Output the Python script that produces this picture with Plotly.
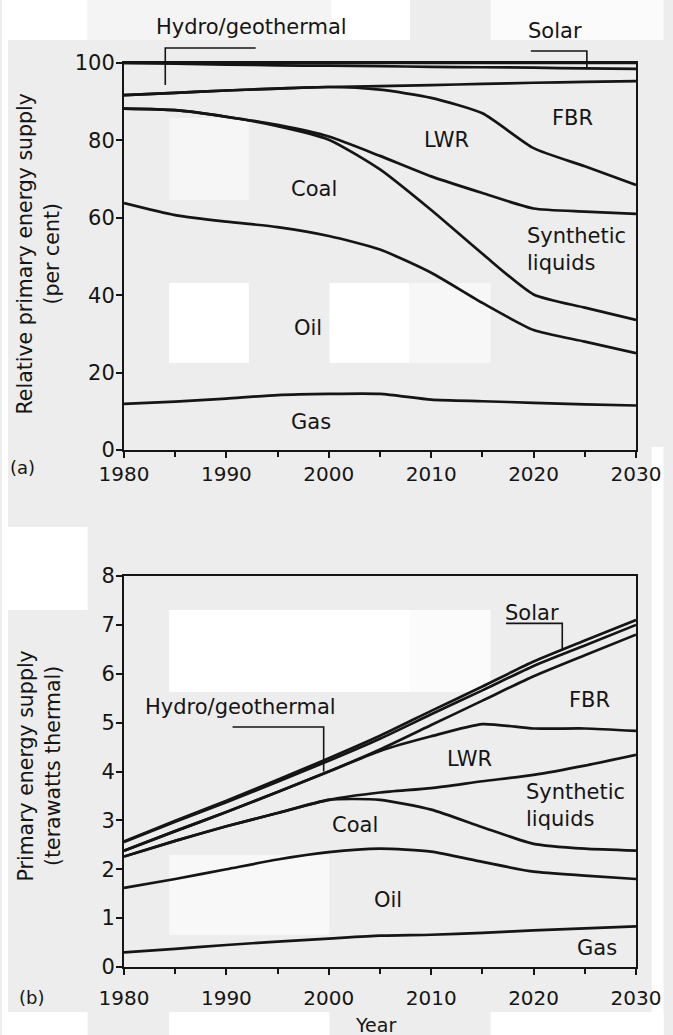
import plotly.graph_objects as go

# ---------------- data ----------------
years = [1980, 1985, 1990, 1995, 2000, 2005, 2010, 2015, 2020, 2025, 2030]
sources = ["Gas", "Oil", "Coal", "Synthetic liquids", "LWR", "FBR",
           "Hydro/geothermal", "Solar"]

# (a) relative primary energy supply, per cent (band thickness per source)
pct_gas = [11.9, 12.5, 13.3, 14.2, 14.5, 14.5, 13.0, 12.6, 12.2, 11.8, 11.5]
pct_oil = [51.9, 48.2, 45.7, 43.4, 40.8, 37.3, 32.8, 25.4, 18.8, 16.2, 13.5]
pct_coal = [24.4, 27.1, 27.1, 26.1, 24.9, 20.7, 16.2, 12.7, 9.2, 8.8, 8.6]
pct_synth = [0.0, 0.0, 0.0, 0.3, 0.8, 3.5, 8.7, 15.7, 22.2, 24.8, 27.4]
pct_lwr = [3.5, 4.5, 6.8, 9.4, 12.8, 17.1, 20.3, 20.6, 15.6, 11.7, 7.5]
pct_fbr = [0.0, 0.0, 0.0, 0.0, 0.0, 0.9, 3.3, 7.6, 16.9, 21.8, 26.8]
pct_hydro = [8.3, 7.5, 6.7, 6.0, 5.5, 5.2, 4.7, 4.3, 3.9, 3.5, 3.2]
pct_solar = [0.0, 0.2, 0.4, 0.6, 0.7, 0.8, 1.0, 1.1, 1.2, 1.4, 1.5]

# (b) primary energy supply, terawatts thermal
tw_gas = [0.30, 0.37, 0.45, 0.52, 0.58, 0.64, 0.66, 0.70, 0.75, 0.79, 0.83]
tw_oil = [1.32, 1.43, 1.55, 1.68, 1.77, 1.78, 1.70, 1.45, 1.20, 1.08, 0.97]
tw_coal = [0.64, 0.78, 0.88, 0.95, 1.07, 1.00, 0.86, 0.71, 0.57, 0.55, 0.58]
tw_synth = [0.00, 0.00, 0.00, 0.00, 0.00, 0.15, 0.44, 0.94, 1.41, 1.70, 1.96]
tw_lwr = [0.12, 0.20, 0.29, 0.43, 0.58, 0.85, 1.06, 1.17, 0.95, 0.76, 0.49]
tw_fbr = [0.00, 0.00, 0.00, 0.00, 0.00, 0.03, 0.23, 0.48, 1.07, 1.50, 1.97]
tw_hydro = [0.18, 0.19, 0.20, 0.21, 0.22, 0.22, 0.22, 0.21, 0.21, 0.20, 0.20]
tw_solar = [0.01, 0.02, 0.03, 0.04, 0.05, 0.06, 0.07, 0.08, 0.09, 0.10, 0.10]

x_ticks = [1980, 1990, 2000, 2010, 2020, 2030]
ya_ticks = [0, 20, 40, 60, 80, 100]
yb_ticks = [0, 1, 2, 3, 4, 5, 6, 7, 8]

# ---------------- layout helpers ----------------
W, H = 673, 1035
L, R, T, B = 124, 28, 63, 68
PW, PH = W - L - R, H - T - B


def px(x):
    return (x - L) / PW


def py(y):
    return (H - B - y) / PH


FONT = "DejaVu Sans, Verdana, sans-serif"
INK = "#151515"

fig = go.Figure()

series_a = [pct_gas, pct_oil, pct_coal, pct_synth, pct_lwr, pct_fbr, pct_hydro, pct_solar]
series_b = [tw_gas, tw_oil, tw_coal, tw_synth, tw_lwr, tw_fbr, tw_hydro, tw_solar]

for name, vals in zip(sources, series_a):
    fig.add_trace(go.Scatter(
        x=years, y=vals, name=name, mode="lines", stackgroup="a", fill="none",
        line=dict(color=INK, width=2.7, shape="spline", smoothing=0.6),
        xaxis="x", yaxis="y", showlegend=False))

for name, vals in zip(sources, series_b):
    fig.add_trace(go.Scatter(
        x=years, y=vals, name=name, mode="lines", stackgroup="b", fill="none",
        line=dict(color=INK, width=2.7, shape="spline", smoothing=0.6),
        xaxis="x2", yaxis="y2", showlegend=False))

axis_common = dict(
    showline=True, linecolor=INK, linewidth=2, mirror=True,
    showgrid=False, zeroline=False,
    ticks="outside", ticklen=6, tickwidth=1.5, tickcolor=INK,
)
xfont = dict(family=FONT, size=20, color=INK)
yfont = dict(family=FONT, size=21, color=INK)
minor_x = dict(dtick=5, tick0=1980, ticks="outside", ticklen=5,
               tickwidth=1.5, tickcolor=INK)

fig.update_layout(
    width=W, height=H,
    margin=dict(l=L, r=R, t=T, b=B),
    paper_bgcolor="#ededed",
    plot_bgcolor="rgba(0,0,0,0)",
    font=dict(family=FONT, size=20, color=INK),
    xaxis=dict(domain=[0, 1], anchor="y", range=[1980, 2030],
               tickvals=x_ticks, ticklabelstandoff=-1, tickfont=xfont,
               minor=minor_x, **axis_common),
    yaxis=dict(domain=[py(450), 1], anchor="x", range=[0, 100],
               tickvals=ya_ticks, tickfont=yfont, ticklabelstandoff=-3,
               **axis_common),
    xaxis2=dict(domain=[0, 1], anchor="y2", range=[1980, 2030],
                tickvals=x_ticks, ticklabelstandoff=6, tickfont=xfont,
                minor=minor_x, **axis_common),
    yaxis2=dict(domain=[0, py(576)], anchor="x2", range=[0, 8],
                tickvals=yb_ticks, tickfont=yfont, ticklabelstandoff=-3,
                **axis_common),
)

# ---------------- scanned-paper background patches ----------------
patches = [
    (0, 0, 87, 40, "#ffffff"),
    (87, 0, 335, 40, "#f4f4f4"),
    (335, 0, 415, 40, "#ffffff"),
    (497, 0, 673, 40, "#fbfbfb"),
    (0, 40, 6, 1035, "#ffffff"),
    (170, 118, 251, 200, "#f6f6f6"),
    (170, 283, 251, 363, "#ffffff"),
    (333, 283, 414, 363, "#ffffff"),
    (414, 283, 497, 363, "#f7f7f7"),
    (0, 527, 87, 610, "#ffffff"),
    (661, 447, 673, 1035, "#ffffff"),
    (170, 610, 415, 692, "#ffffff"),
    (415, 610, 497, 692, "#fbfbfb"),
    (170, 855, 333, 935, "#f8f8f8"),
    (0, 1012, 87, 1035, "#ffffff"),
    (170, 1012, 333, 1035, "#ffffff"),
    (497, 1012, 673, 1035, "#ffffff"),
]
shapes = []
for x0, y0, x1, y1, c in patches:
    shapes.append(dict(type="rect", xref="paper", yref="paper",
                       x0=px(x0), x1=px(x1), y0=py(y1), y1=py(y0),
                       fillcolor=c, line=dict(width=0), layer="below"))

# ---------------- leader lines ----------------
lead = dict(color=INK, width=1.6)
# (a) Hydro/geothermal
shapes.append(dict(type="path", xref="paper", yref="paper",
                   path=f"M {px(258)} {py(48)} L {px(166)} {py(48)} L {px(166)} {py(85)}",
                   line=lead))
# (a) Solar
shapes.append(dict(type="path", xref="paper", yref="paper",
                   path=f"M {px(538)} {py(51)} L {px(595)} {py(51)} L {px(595)} {py(68)}",
                   line=lead))
# (b) Hydro/geothermal
shapes.append(dict(type="path", xref="x2", yref="y2",
                   path="M 1990.6 4.91 L 1999.5 4.91 L 1999.5 4.0",
                   line=lead))
# (b) Solar (underline + drop)
shapes.append(dict(type="path", xref="x2", yref="y2",
                   path="M 2017.3 7.03 L 2022.8 7.03 L 2022.8 6.47",
                   line=lead))
fig.update_layout(shapes=shapes)

# ---------------- text ----------------
ann = []


def label(text, x, y, xref="x", yref="y", size=21, xanchor="center", **kw):
    ann.append(dict(text=text, x=x, y=y, xref=xref, yref=yref, showarrow=False,
                    xanchor=xanchor, yanchor="middle",
                    font=dict(family=FONT, size=size, color=INK), **kw))


# panel (a)
label("Hydro/geothermal", px(254), py(27), "paper", "paper")
label("Solar", px(563), py(31), "paper", "paper")
label("FBR", 2023.8, 85.8)
label("LWR", 2011.5, 80.1)
label("Coal", 1998.6, 67.4)
label("Synthetic<br>liquids", 2019.2, 51.8, xanchor="left", align="left")
label("Oil", 1998.0, 31.5)
label("Gas", 1998.3, 7.2)
label("(a)", px(21), py(467), "paper", "paper", size=18)
label("Relative primary energy supply<br>(per cent)", px(38), py(254),
      "paper", "paper", size=20.5, textangle=-90)

# panel (b)
label("Solar", 2017.0, 7.24, "x2", "y2", xanchor="left")
label("Hydro/geothermal", px(243), py(707), "paper", "paper")
label("FBR", 2025.5, 5.46, "x2", "y2")
label("LWR", 2013.7, 4.25, "x2", "y2")
label("Synthetic<br>liquids", 2019.1, 3.31, "x2", "y2", xanchor="left", align="left")
label("Coal", 2002.6, 2.9, "x2", "y2")
label("Oil", 2005.8, 1.37, "x2", "y2")
label("Gas", 2026.2, 0.39, "x2", "y2")
label("(b)", px(30), py(997), "paper", "paper", size=18)
label("Primary energy supply<br>(terawatts thermal)", px(38), py(766),
      "paper", "paper", size=20.5, textangle=-90)
label("Year", px(380), py(1025), "paper", "paper", size=19)

fig.update_layout(annotations=ann)

fig.write_html("out.html",
               config={"displayModeBar": False},
               post_script="document.body.style.margin='0px';"
                           "document.body.style.overflow='hidden';")
